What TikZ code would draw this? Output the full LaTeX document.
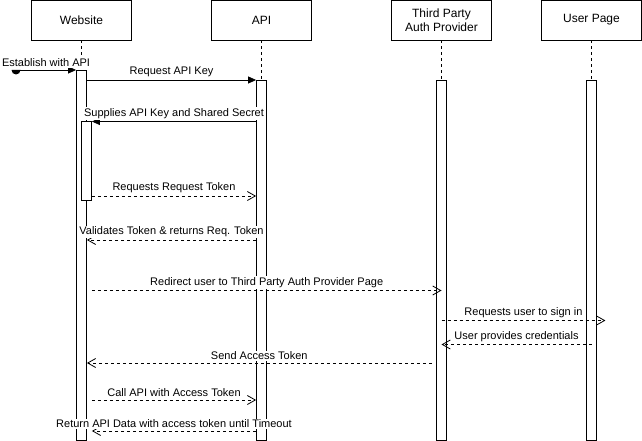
\documentclass[tikz,border=0pt]{standalone}
\usepackage{fontspec}
\setmainfont{Liberation Sans}
\usetikzlibrary{arrows.meta,calc}

\begin{document}
\begin{tikzpicture}[x=1pt, y=-1pt, line width=0.8pt,
    every node/.style={font=\fontsize{11}{13}\selectfont, align=center},
    party/.style={draw, fill=white, minimum width=100pt, minimum height=40pt,
                  inner sep=0pt, font=\fontsize{12}{14}\selectfont},
    act/.style={draw, fill=white, minimum width=10pt, inner sep=0pt, anchor=north},
    life/.style={dash pattern=on 3pt off 3pt},
    call/.style={-{Triangle[length=8pt,width=7pt]}},
    reply/.style={dash pattern=on 3pt off 3pt, -{Straight Barb[length=8pt,width=9pt]}},
    lbl/.style={above, fill=white, inner sep=1pt, yshift=1.5pt}]

  \useasboundingbox (0,0) rectangle (642,441);

  %% ─── Participants ───────────────────────────────────────────────────────
  \node[party] (web)  at (81.5,20)  {Website};
  \node[party] (api)  at (261.5,20) {API};
  \node[party] (auth) at (441.5,20) {Third Party\\Auth Provider};
  \node[party] (user) at (591.5,20) {User Page};

  %% ─── Activation bars ────────────────────────────────────────────────────
  \node[act, minimum height=370pt] (actWeb)  at (81.5,70)  {};
  \node[act, minimum height=360pt] (actApi)  at (261.5,80) {};
  \node[act, minimum height=360pt] (actAuth) at (441.5,80) {};
  \node[act, minimum height=360pt] (actUser) at (591.5,80) {};
  \node[act, minimum height=78.5pt] (actWeb2) at (86.5,121.5) {};

  %% lifelines
  \draw[life] (web)  -- (actWeb);
  \draw[life] (api)  -- (actApi);
  \draw[life] (auth) -- (actAuth);
  \draw[life] (user) -- (actUser);

  %% ─── Message levels ─────────────────────────────────────────────────────
  \coordinate (start) at (16,70);
  \coordinate (m1)  at (0,80);
  \coordinate (m2)  at (0,121.5);
  \coordinate (m3)  at (0,196);
  \coordinate (m4)  at (0,240);
  \coordinate (m5)  at (0,290.5);
  \coordinate (m6)  at (0,320.5);
  \coordinate (m7)  at (0,344.5);
  \coordinate (m8)  at (0,363);
  \coordinate (m9)  at (0,400);
  \coordinate (m10) at (0,431);
  \coordinate (signEnd) at ($(actUser.east |- m6)+(8.5,0)$);
  \coordinate (sendStart) at ($(actAuth.west |- m8)+(-4.5,0)$);

  %% found message
  \fill (start) ++(4.5,0) arc[start angle=0, end angle=180, radius=4.5] -- cycle;
  \draw[call] (start) -- node[lbl]{Establish with API} (actWeb.west |- start);

  %% ─── Messages ───────────────────────────────────────────────────────────
  \draw[call] (actWeb.east |- m1) -- node[lbl]{Request API Key} (actApi.west |- m1);
  \draw[call] (actApi.west |- m2) -- node[lbl]{Supplies API Key and Shared Secret} (actWeb2.east |- m2);
  \draw[reply] (actWeb2.east |- m3) -- node[lbl]{Requests Request Token} (actApi.west |- m3);
  \draw[reply] (actApi.west |- m4) -- node[lbl]{Validates Token \& returns Req. Token} (actWeb.east |- m4);
  \draw[reply] (actWeb2.east |- m5) -- node[lbl]{Redirect user to Third Party Auth Provider Page} (actAuth |- m5);
  \draw[reply] (actAuth |- m6) -- node[lbl]{Requests user to sign in} (signEnd);
  \draw[reply] (actUser |- m7) -- node[lbl]{User provides credentials} (actAuth |- m7);
  \draw[reply] (sendStart) -- node[lbl]{Send Access Token} (actWeb.east |- m8);
  \draw[reply] (actWeb2.east |- m9) -- node[lbl]{Call API with Access Token} (actApi.west |- m9);
  \draw[reply] (actApi.west |- m10) -- node[lbl]{Return API Data with access token until Timeout} (actWeb2.east |- m10);

\end{tikzpicture}
\end{document}
